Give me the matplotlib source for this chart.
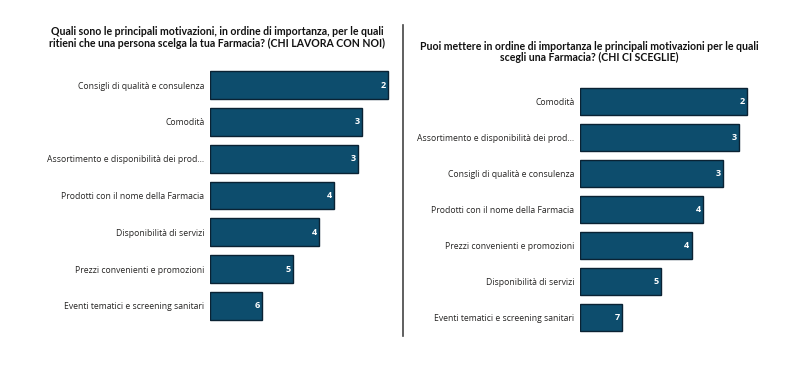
import matplotlib
matplotlib.use('Agg')
import matplotlib.pyplot as plt
from matplotlib.lines import Line2D

# left chart - chi lavora con noi
cat_sx = ['Consigli di qualità e consulenza', 'Comodità',
          'Assortimento e disponibilità dei prod...', 'Prodotti con il nome della Farmacia',
          'Disponibilità di servizi', 'Prezzi convenienti e promozioni',
          'Eventi tematici e screening sanitari']
punteggio_sx = [6.01, 5.14, 5.00, 4.19, 3.68, 2.80, 1.76]
etichette_sx = ['2', '3', '3', '4', '4', '5', '6']

# right chart - chi ci sceglie
cat_dx = ['Comodità', 'Assortimento e disponibilità dei prod...',
          'Consigli di qualità e consulenza', 'Prodotti con il nome della Farmacia',
          'Prezzi convenienti e promozioni', 'Disponibilità di servizi',
          'Eventi tematici e screening sanitari']
punteggio_dx = [5.64, 5.37, 4.83, 4.16, 3.78, 2.74, 1.42]
etichette_dx = ['2', '3', '3', '4', '4', '5', '7']

titolo_sx = ('Quali sono le principali motivazioni, in ordine di importanza, per le quali\n'
             'ritieni che una persona scelga la tua Farmacia? (CHI LAVORA CON NOI)')
titolo_dx = ('Puoi mettere in ordine di importanza le principali motivazioni per le quali\n'
             'scegli una Farmacia? (CHI CI SCEGLIE)')

BAR = '#0d4d6d'
EDGE = '#0a2233'
W, H = 794, 378


def bar_chart(ax, cats, vals, labels, h):
    y = list(range(len(cats)))
    ax.barh(y, vals, height=h, color=BAR, edgecolor=EDGE, linewidth=1)
    ax.set_yticks(y)
    ax.set_yticklabels(cats, fontsize=6.2, color='#252423', family=['Open Sans', 'DejaVu Sans'])
    ax.tick_params(axis='y', length=0, pad=4)
    ax.set_xticks([])
    ax.set_xlim(0, 6.15)
    ax.set_ylim(len(cats) - 0.5, -0.5)
    for s in ax.spines.values():
        s.set_visible(False)
    for yi, v, lab in zip(y, vals, labels):
        ax.text(v - 0.08, yi, lab, ha='right', va='center', color='white',
                fontsize=6.5, fontweight='bold', family=['Open Sans', 'DejaVu Sans'])


fig = plt.figure(figsize=(W / 100, H / 100), dpi=100)

ax1 = fig.add_axes([210 / W, 1 - 324.4 / H, 182 / W, 257.8 / H])
bar_chart(ax1, cat_sx, punteggio_sx, etichette_sx, 0.76)

ax2 = fig.add_axes([580 / W, 1 - 335 / H, 182 / W, 252 / H])
bar_chart(ax2, cat_dx, punteggio_dx, etichette_dx, 0.75)

tfont = ['Lato', 'DejaVu Sans']
fig.text(217 / W, 1 - 37.5 / H, titolo_sx, ha='center', va='center', multialignment='center',
         fontsize=7.6, fontweight='bold', family=tfont, color='#111111', linespacing=1.1)
fig.text(589 / W, 1 - 52 / H, titolo_dx, ha='center', va='center', multialignment='center',
         fontsize=7.6, fontweight='bold', family=tfont, color='#111111', linespacing=1.1)

# divider
fig.add_artist(Line2D([403 / W, 403 / W], [1 - 25 / H, 1 - 336 / H], color='#444444', lw=1.2))

fig.savefig('out.png', dpi=100)
